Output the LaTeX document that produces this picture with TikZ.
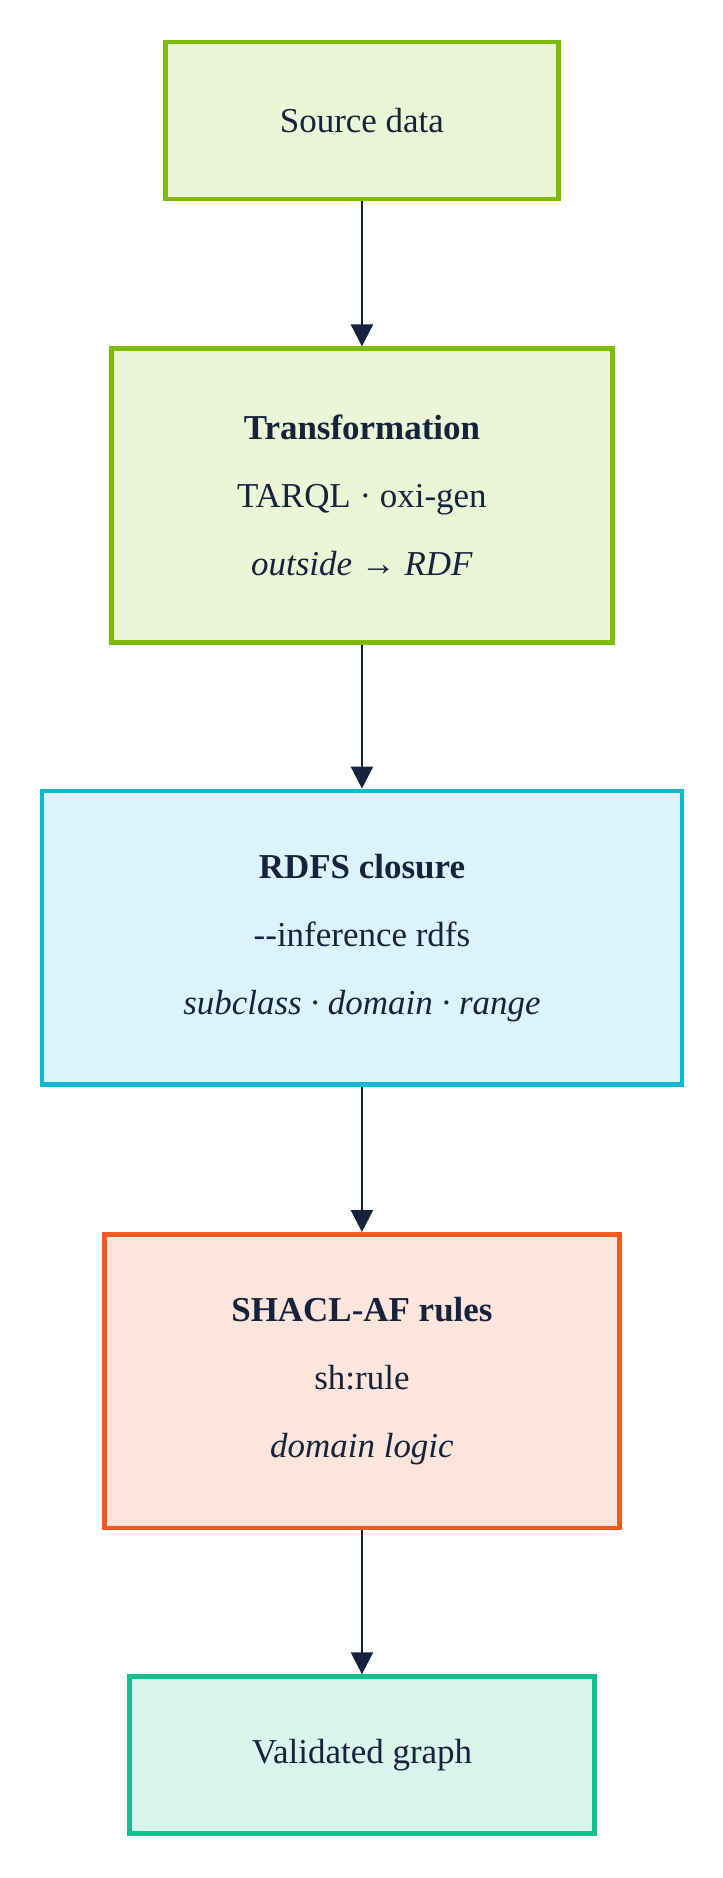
\documentclass[tikz,border=0pt]{standalone}
\usepackage{fontspec}
\setmainfont{Liberation Serif}
\usetikzlibrary{arrows.meta}
\definecolor{ink}{HTML}{15233D}
\definecolor{gB}{HTML}{7DBC0A}\definecolor{gF}{HTML}{EBF6D6}
\definecolor{bB}{HTML}{10B6D2}\definecolor{bF}{HTML}{DBF3FA}
\definecolor{oB}{HTML}{F55B20}\definecolor{oF}{HTML}{FDE5DB}
\definecolor{tB}{HTML}{14BF8C}\definecolor{tF}{HTML}{D9F4EA}
\begin{document}
\begin{tikzpicture}[x=1.2pt,y=-1.2pt,
  box/.style={draw, line width=4.8pt, inner sep=0pt, text=ink, align=center,
    font=\fontsize{35}{68}\selectfont},
  arr/.style={draw=ink, line width=2.4pt, -{Triangle[length=22pt,width=22pt]}}]
\useasboundingbox (0,0) rectangle (603,1567);
\node[box, draw=gB, fill=gF, minimum width=328*1.2pt, minimum height=131*1.2pt] (src) at (302,100.5) {Source data};
\node[box, draw=gB, fill=gF, minimum width=418*1.2pt, minimum height=245*1.2pt] (tr) at (302,413.5) {\textbf{Transformation}\\TARQL · oxi-gen\\\textit{outside} → \textit{RDF}};
\node[box, draw=bB, fill=bF, minimum width=534*1.2pt, minimum height=245*1.2pt] (rdfs) at (302,782.5) {\textbf{RDFS closure}\\-{}-inference rdfs\\\textit{subclass · domain · range}};
\node[box, draw=oB, fill=oF, minimum width=430*1.2pt, minimum height=245*1.2pt] (sh) at (302,1152.5) {\textbf{SHACL-AF rules}\\sh:rule\\\textit{domain logic}};
\node[box, draw=tB, fill=tF, minimum width=388*1.2pt, minimum height=131*1.2pt] (val) at (302,1464.5) {Validated graph};
\draw[arr] (src) -- (tr);
\draw[arr] (tr) -- (rdfs);
\draw[arr] (rdfs) -- (sh);
\draw[arr] (sh) -- (val);
\end{tikzpicture}
\end{document}
